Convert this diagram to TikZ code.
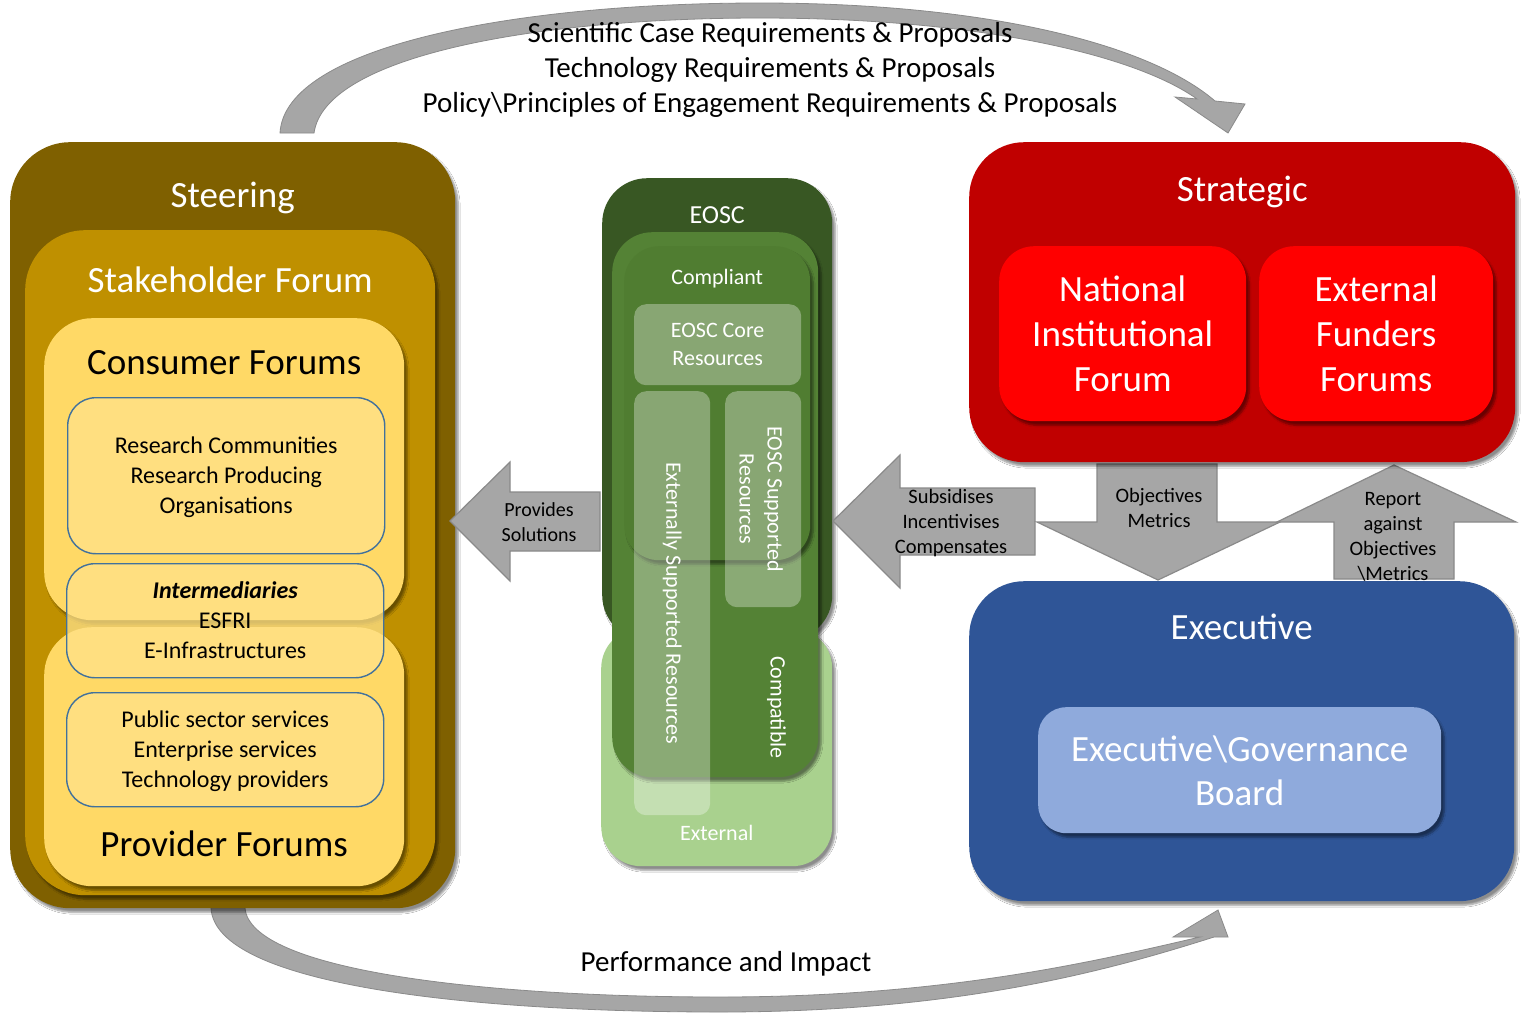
\documentclass[tikz,border=0pt]{standalone}
\usepackage{fontspec}
\setmainfont{Carlito}
\usetikzlibrary{positioning, calc, shadows.blur}

\definecolor{steerbrown}{HTML}{7F6000}
\definecolor{stakegold}{HTML}{BF9000}
\definecolor{forumyellow}{HTML}{FFD966}
\definecolor{forumfill}{HTML}{FFE28A}
\definecolor{forumblue}{HTML}{41719C}
\definecolor{eoscdark}{HTML}{385723}
\definecolor{eoscmid}{HTML}{548235}
\definecolor{eosccomp}{HTML}{507D31}
\definecolor{eosclight}{HTML}{A9D18E}
\definecolor{stratred}{HTML}{C00000}
\definecolor{brightred}{HTML}{FF0000}
\definecolor{execblue}{HTML}{2F5597}
\definecolor{boardblue}{HTML}{8FAADC}
\definecolor{arrowgray}{HTML}{A6A6A6}
\definecolor{arrowedge}{HTML}{8A8A8A}

\tikzset{
  panel/.style={rounded corners=#1, anchor=north west, inner sep=0pt,
    blur shadow={shadow xshift=3pt, shadow yshift=-4pt, shadow blur steps=6, shadow opacity=45}},
  panel/.default=40,
  forumbox/.style={draw=forumblue, line width=1.4pt, fill=forumfill, fill opacity=0.75,
    rounded corners=28, anchor=north west, inner sep=0pt},
  resbox/.style={fill=white, fill opacity=0.32, rounded corners=12, anchor=north west, inner sep=0pt},
  blockarrow/.style={fill=arrowgray, draw=arrowedge, line width=1.2pt},
  curvearrow/.style={fill=arrowgray, draw=arrowedge, line width=0.8pt},
  bigtitle/.style={text=white, anchor=base, inner sep=0pt, align=center, font=\fontsize{37}{44}\selectfont},
  forumtitle/.style={text=black, anchor=base, inner sep=0pt, font=\fontsize{37}{44}\selectfont},
  forumtext/.style={text=black, anchor=base, inner sep=0pt, align=center, font=\fontsize{24}{30}\selectfont},
  eosctext/.style={text=white, anchor=base, inner sep=0pt, align=center, font=\fontsize{22}{28}\selectfont},
  arrowtext/.style={text=black, anchor=base, inner sep=0pt, align=center, font=\fontsize{20}{25}\selectfont},
  flowtext/.style={text=black, anchor=base, inner sep=0pt, align=center, font=\fontsize{29}{35}\selectfont},
}

\begin{document}
\begin{tikzpicture}[x=1pt, y=-1pt]

\fill[white] (0,0) rectangle (1525,1015);
\useasboundingbox (0,0) rectangle (1525,1015);

% curved flow arrows
\draw[curvearrow] (280,133) .. controls (285,45) and (520,3) .. (760,3) .. controls (990,3) and (1150,45) .. (1215,101)
  -- (1245,104) -- (1228,133) -- (1175,97) -- (1197,99)
  .. controls (1135,55) and (980,18) .. (760,18) .. controls (540,18) and (325,55) .. (314,133) -- cycle;
\draw[curvearrow] (211,908) .. controls (215,985) and (470,1012) .. (720,1012) .. controls (960,1012) and (1110,970) .. (1214,937)
  -- (1228,937) -- (1218,910) -- (1173,937) -- (1200,937)
  .. controls (1100,960) and (950,997) .. (720,997) .. controls (480,997) and (250,970) .. (245,908) -- cycle;

% multi-line labels sit on the baseline of their last line
\node[flowtext] (reqs) at (770,112) {Scientific Case Requirements \& Proposals\\
  Technology Requirements \& Proposals\\
  Policy\textbackslash Principles of Engagement Requirements \& Proposals};
\node[flowtext] (perf) at (726,971) {Performance and Impact};

% steering side
\node[panel=60, fill=steerbrown, minimum width=445, minimum height=766] (steering) at (10,142) {};
\node[panel=60, fill=stakegold, minimum width=410, minimum height=665] (stake) at (25,230) {};
\node[panel=48, fill=forumyellow, minimum width=360, minimum height=259] (provider) at (44,627) {};
\node[panel=48, fill=forumyellow, minimum width=360, minimum height=302] (consumer) at (44,318) {};

\node[bigtitle] at ($(steering.north)+(0,65)$) {Steering};
\node[bigtitle] at ($(stake.north)+(0,62)$) {Stakeholder Forum};
\node[forumtitle] at ($(consumer.north)+(0,56)$) {Consumer Forums};
\node[forumtitle] at ($(provider.south)+(0,-30)$) {Provider Forums};

\node[forumbox, minimum width=317, minimum height=156] (research) at (67,397) {};
\node[forumbox, minimum width=317, minimum height=114] (inter) at (66,563) {};
\node[forumbox, minimum width=317, minimum height=114] (public) at (66,692) {};

\node[forumtext] at ($(research.north)+(0,116)$) {Research Communities\\ Research Producing\\ Organisations};
\node[forumtext] at ($(inter.north)+(0,95)$) {\textbf{\textit{Intermediaries}}\\ ESFRI\\ E-Infrastructures};
\node[forumtext] at ($(public.north)+(0,95)$) {Public sector services\\ Enterprise services\\ Technology providers};

% eosc column
\node[panel=40, fill=eosclight, minimum width=231, minimum height=238] (external) at (601,628) {};
\node[panel=45, fill=eoscdark, minimum width=230, minimum height=462] (eosc) at (602,178) {};
\node[panel=40, fill=eoscmid, minimum width=206, minimum height=545] (compatible) at (612,232) {};
\node[panel=35, fill=eosccomp, minimum width=186, minimum height=314] (compliant) at (624,246) {};
\node[resbox, minimum width=167, minimum height=81] (core) at (634,304) {};
\node[resbox, minimum width=76, minimum height=424] (extsup) at (634,391) {};
\node[resbox, minimum width=76, minimum height=216] (eoscsup) at (725,391) {};

\node[eosctext, font=\fontsize{26}{30}\selectfont] at ($(eosc.north)+(0,45)$) {EOSC};
\node[eosctext] at ($(compliant.north)+(0,38)$) {Compliant};
\node[eosctext] at ($(core.north)+(0,61)$) {EOSC Core\\ Resources};
\node[eosctext] at ($(external.south)+(0,-26)$) {External};
\node[eosctext, anchor=center, rotate=-90] at (extsup.center) {Externally Supported Resources};
\node[eosctext, anchor=center, rotate=-90] at ($(eoscsup.center)+(-2,0)$) {EOSC Supported\\ Resources};
\node[eosctext, anchor=center, rotate=-90] at ($(compatible.south east)+(-42,-70)$) {Compatible};

% block arrows
\draw[blockarrow] (450,521) -- (510,462) -- (510,492) -- (600,492) -- (600,551) -- (510,551) -- (510,581) -- cycle;
\draw[blockarrow] (833,521) -- (900,455) -- (900,488) -- (1035,488) -- (1035,555) -- (900,555) -- (900,588) -- cycle;
\draw[blockarrow] (1097,464) -- (1217,464) -- (1217,522) -- (1280,522) -- (1158,580) -- (1037,522) -- (1097,522) -- cycle;
\draw[blockarrow] (1394,465) -- (1516,522) -- (1454,522) -- (1454,579) -- (1334,579) -- (1334,522) -- (1277,522) -- cycle;

\node[arrowtext] (provides) at (539,541) {Provides\\ Solutions};
\node[arrowtext, font=\fontsize{20.5}{25}\selectfont] (subsid) at (951,553) {Subsidises\\ Incentivises\\ Compensates};
\node[arrowtext, font=\fontsize{20.5}{25}\selectfont] (objmet) at (1159,527) {Objectives\\ Metrics};
\node[arrowtext, font=\fontsize{20.5}{24.7}\selectfont] (report) at (1393,580) {Report\\ against\\ Objectives\\ \textbackslash Metrics};

% strategic and executive
\node[panel=55, fill=stratred, minimum width=546, minimum height=320] (strategic) at (969,142) {};
\node[panel=35, fill=brightred, minimum width=247, minimum height=175] (national) at (999,246) {};
\node[panel=35, fill=brightred, minimum width=234, minimum height=175] (funders) at (1259,246) {};
\node[bigtitle] at ($(strategic.north)+(0,59)$) {Strategic};
\node[bigtitle, font=\fontsize{37}{45}\selectfont] at ($(national.north)+(0,145)$) {National\\ Institutional\\ Forum};
\node[bigtitle, font=\fontsize{37}{45}\selectfont] at ($(funders.north)+(0,145)$) {External\\ Funders\\ Forums};

\node[panel=55, fill=execblue, minimum width=545, minimum height=320] (executive) at (969,581) {};
\node[panel=28, fill=boardblue, minimum width=403, minimum height=126] (board) at (1038,707) {};
\node[bigtitle] at ($(executive.north)+(0,58)$) {Executive};
\node[bigtitle] at ($(board.north)+(0,98)$) {Executive\textbackslash Governance\\ Board};

\end{tikzpicture}
\end{document}
